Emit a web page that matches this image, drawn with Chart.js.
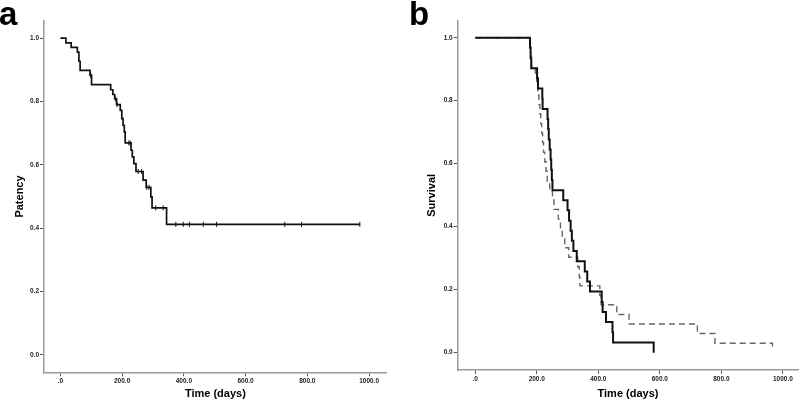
<!DOCTYPE html>
<html>
<head>
<meta charset="utf-8">
<script src="https://cdn.jsdelivr.net/npm/chart.js@4.4.1/dist/chart.umd.min.js"></script>
<style>
  html, body { margin: 0; padding: 0; background: #fff; }
  #wrap { position: relative; width: 800px; height: 401px; overflow: hidden; background: #fff; }
  .panel { position: absolute; top: 0; width: 400px; height: 401px; }
  .lbl { position: absolute; font-family: "Liberation Sans", Arial, sans-serif; font-weight: bold; font-size: 33px; line-height: 33px; color: #000; }
</style>
</head>
<body>
<div id="wrap">
  <div class="panel" style="left:0"><canvas id="ca" width="400" height="401"></canvas></div>
  <div class="panel" style="left:400px"><canvas id="cb" width="400" height="401"></canvas></div>
  <div class="lbl" style="left:-1px; top:-3px">a</div>
  <div class="lbl" style="left:409px; top:-3px">b</div>
</div>
<script>
// ---------- data ----------
// Panel a: patency (Kaplan-Meier step points: time, value after event)
const timesA = [0, 18, 35, 55, 60, 64, 96, 101, 163, 170, 176, 182, 194, 199, 203, 207, 210, 229, 233, 238, 245, 268, 278, 293, 297, 344, 970];
const survA  = [1.0, 0.985, 0.971, 0.956, 0.927, 0.898, 0.883, 0.853, 0.837, 0.822, 0.808, 0.790, 0.772, 0.746, 0.725, 0.704, 0.669, 0.646, 0.625, 0.604, 0.579, 0.552, 0.529, 0.499, 0.464, 0.412, 0.412];
const censorA = [98, 179, 184, 222, 226, 252, 263, 280, 287, 309, 333, 374, 398, 418, 463, 506, 727, 781, 970];

// Panel b: survival, solid group
const timesBs = [0, 178, 180, 182, 201, 204, 218, 219, 235, 237, 239, 242, 245, 247, 249, 251, 286, 300, 305, 310, 314, 319, 330, 356, 364, 373, 411, 414, 425, 446, 448, 580];
const survBs  = [1, 0.968, 0.935, 0.903, 0.871, 0.839, 0.806, 0.774, 0.742, 0.710, 0.677, 0.645, 0.613, 0.581, 0.548, 0.516, 0.484, 0.452, 0.419, 0.387, 0.355, 0.323, 0.290, 0.258, 0.226, 0.194, 0.161, 0.129, 0.097, 0.065, 0.032, 0];
// Panel b: survival, dashed group
const timesBd = [0, 178, 180, 183, 195, 200, 203, 207, 210, 213, 216, 219, 222, 226, 230, 234, 242, 251, 256, 270, 277, 283, 291, 304, 333, 338, 340, 405, 409, 460, 500, 722, 779, 966];
const survBd  = [1, 0.970, 0.939, 0.909, 0.879, 0.848, 0.818, 0.788, 0.758, 0.727, 0.697, 0.667, 0.636, 0.606, 0.576, 0.545, 0.515, 0.485, 0.455, 0.424, 0.394, 0.364, 0.333, 0.303, 0.273, 0.242, 0.212, 0.182, 0.152, 0.121, 0.091, 0.061, 0.030, 0.015];

// Ticks
const xTickValues = [0, 200, 400, 600, 800, 1000];
const xTickLabels = [".0", "200.0", "400.0", "600.0", "800.0", "1000.0"];
const yTickValues = [0, 0.2, 0.4, 0.6, 0.8, 1.0];
const yTickLabels = ["0.0", "0.2", "0.4", "0.6", "0.8", "1.0"];

// ---------- helpers ----------
const FONT = '"Liberation Sans", Arial, Helvetica, sans-serif';
function pts(xs, ys) { return xs.map((x, i) => ({ x: x, y: ys[i] })); }
function stepValue(xs, ys, t) {
  let v = ys[0];
  for (let i = 0; i < xs.length; i++) { if (xs[i] <= t) v = ys[i]; }
  return v;
}

function makeChart(id, opts) {
  const ctx = document.getElementById(id);
  return new Chart(ctx, {
    type: 'scatter',
    data: { datasets: opts.datasets },
    options: {
      responsive: false,
      animation: false,
      devicePixelRatio: 1,
      layout: { padding: opts.padding },
      plugins: { legend: { display: false }, tooltip: { enabled: false } },
      scales: {
        x: {
          type: 'linear',
          min: opts.xmin, max: opts.xmax,
          afterFit: (s) => { s.height = opts.xHeight; },
          afterBuildTicks: (s) => { s.ticks = xTickValues.map(v => ({ value: v })); },
          ticks: {
            autoSkip: false, maxRotation: 0, padding: 1,
            color: '#222',
            font: { family: FONT, size: 6.5, weight: 'bold' },
            callback: (v) => { const i = xTickValues.indexOf(v); return i >= 0 ? xTickLabels[i] : ''; }
          },
          grid: { drawOnChartArea: false, drawTicks: true, tickLength: 4, color: '#555', lineWidth: 1 },
          border: { display: true, color: '#9a9a9a', width: 1.5 },
          title: { display: true, text: 'Time (days)', color: '#000',
                   font: { family: FONT, size: 11, weight: 'bold' }, padding: { top: 0, bottom: 0 } }
        },
        y: {
          type: 'linear',
          min: opts.ymin, max: opts.ymax,
          afterFit: (s) => { s.width = opts.yWidth; },
          afterBuildTicks: (s) => { s.ticks = yTickValues.map(v => ({ value: v })); },
          ticks: {
            autoSkip: false, padding: 1,
            color: '#222',
            font: { family: FONT, size: 6.5, weight: 'bold' },
            callback: (v) => { const i = yTickValues.findIndex(t => Math.abs(t - v) < 1e-9); return i >= 0 ? yTickLabels[i] : ''; }
          },
          grid: { drawOnChartArea: false, drawTicks: true, tickLength: 4, color: '#555', lineWidth: 1 },
          border: { display: true, color: '#9a9a9a', width: 1.5 },
          title: { display: true, text: opts.yTitle, color: '#000',
                   font: { family: FONT, size: 11, weight: 'bold' }, padding: { top: opts.yTitlePad, bottom: 0 } }
        }
      }
    }
  });
}

// ---------- panel a ----------
makeChart('ca', {
  padding: { left: 0, top: 20.7, right: 13.3, bottom: 0 },
  xmin: -53, xmax: 1057, ymin: -0.055, ymax: 1.055,
  xHeight: 28.7, yWidth: 44, yTitle: 'Patency', yTitlePad: 13.4,
  datasets: [
    { type: 'line', data: pts(timesA, survA), stepped: 'before', borderColor: '#111', borderWidth: 1.7,
      pointRadius: 0, fill: false, showLine: true },
    { type: 'scatter', data: censorA.map(t => ({ x: t, y: stepValue(timesA, survA, t) })),
      pointStyle: 'line', rotation: 90, radius: 2.5, borderColor: '#111', borderWidth: 1, backgroundColor: '#111' }
  ]
});

// ---------- panel b ----------
makeChart('cb', {
  padding: { left: 0, top: 20.7, right: 1.7, bottom: 0 },
  xmin: -57, xmax: 1050, ymin: -0.055, ymax: 1.054,
  xHeight: 31, yWidth: 57.7, yTitle: 'Survival', yTitlePad: 25.4,
  datasets: [
    { type: 'line', data: pts(timesBs, survBs), stepped: 'before', borderColor: '#111', borderWidth: 2,
      pointRadius: 0, fill: false, showLine: true, order: 0 },
    { type: 'line', data: pts(timesBd, survBd), stepped: 'before', borderColor: '#666', borderWidth: 1.4,
      borderDash: [6, 4], pointRadius: 0, fill: false, showLine: true, order: 1 }
  ]
});
</script>
</body>
</html>
